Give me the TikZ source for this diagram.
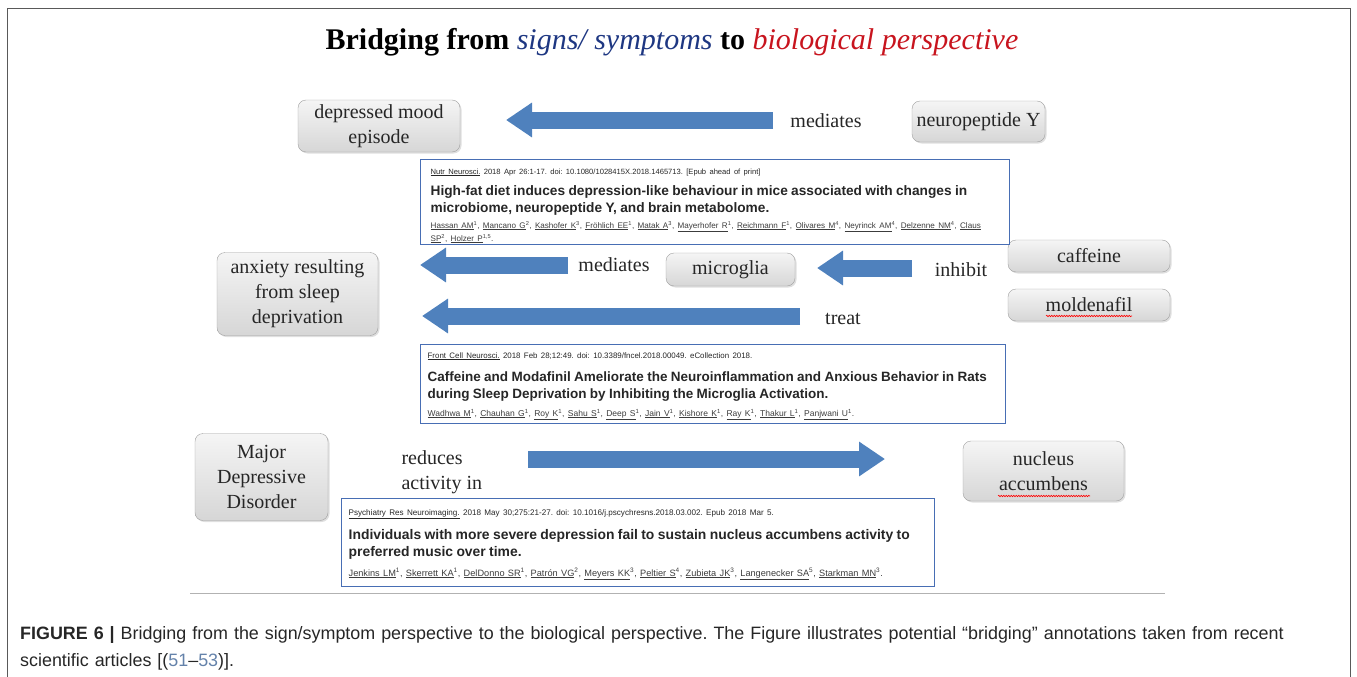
\documentclass[tikz,border=0pt]{standalone}
\usepackage{fontspec}
\setmainfont{Liberation Serif}
\setsansfont{Liberation Sans}
\usetikzlibrary{arrows.meta,shadows,decorations.pathmorphing}
\frenchspacing

\definecolor{arrowblue}{RGB}{79,129,189}
\definecolor{boxblue}{RGB}{72,110,180}
\definecolor{titleblue}{RGB}{30,55,130}
\definecolor{titlered}{RGB}{200,20,30}
\definecolor{citeblue}{RGB}{100,130,170}
\definecolor{authgray}{RGB}{60,60,60}

\newcommand{\aname}[2]{\underline{#1}\textsuperscript{#2}}

\tikzset{
  concept/.style={draw=gray!75, rounded corners=8pt, top color=gray!8, bottom color=gray!32,
    drop shadow={opacity=0.25,shadow xshift=1.5pt,shadow yshift=-1.5pt},
    align=center, text=black!85, font=\fontsize{20}{25}\selectfont, inner sep=2pt},
  verb/.style={text=black!85, font=\fontsize{20}{25}\selectfont},
  bigarrow/.style={draw=arrowblue, line width=17pt, -{Triangle[width=33pt,length=26pt]}},
  article/.style={draw=boxblue, line width=1.3pt, anchor=north west, align=left,
    inner xsep=10pt, font=\sffamily, text=black!85},
  squiggle/.style={red, line width=0.6pt, decorate,
    decoration={snake,amplitude=0.7pt,segment length=2.5pt}}
}

\begin{document}
\begin{tikzpicture}[x=1pt,y=-1pt]
  \useasboundingbox (0,0) rectangle (1357,677);
  \draw[gray!70!black, line width=1.5pt] (7.5,677) -- (7.5,8.5) -- (1350.5,8.5) -- (1350.5,677);

  \node[font=\fontsize{30}{36}\selectfont] (title) at (672,42)
    {\textbf{Bridging from} \textit{\color{titleblue}signs/ symptoms} \textbf{to} \textit{\color{titlered}biological perspective}};

  % signs / symptoms and biology
  \node[concept, minimum width=162pt, minimum height=52pt] (depmood) at (379,126) {depressed mood\\episode};
  \node[concept, minimum width=133pt, minimum height=41pt] (npy) at (978.5,121.5) {neuropeptide Y};
  \node[concept, minimum width=161pt, minimum height=83pt] (anxiety) at (297.5,294) {anxiety resulting\\from sleep\\deprivation};
  \node[concept, minimum width=129pt, minimum height=33pt] (microglia) at (730.5,269.5) {microglia};
  \node[concept, minimum width=162pt, minimum height=32pt] (caffeine) at (1089,256) {caffeine};
  \node[concept, minimum width=162pt, minimum height=32pt] (moldenafil) at (1089,305) {moldenafil};
  \node[concept, minimum width=133pt, minimum height=87pt] (mdd) at (261.5,477) {Major\\Depressive\\Disorder};
  \node[concept, minimum width=161pt, minimum height=60pt] (nacc) at (1043.5,471) {nucleus\\accumbens};

  \draw[squiggle] (1046,316) -- (1132,316);
  \draw[squiggle] (998,496) -- (1090,496);

  % verbs
  \node[verb] (med1) at (826,121) {mediates};
  \node[verb] (med2) at (614,265) {mediates};
  \node[verb] (inh) at (961,270) {inhibit};
  \node[verb] (trt) at (843,319) {treat};
  \node[verb, align=left, anchor=west] (reduce) at (398,472) {reduces\\activity in};

  % block arrows
  \coordinate (a1s) at (773,120);  \coordinate (a1e) at (506,120);
  \coordinate (a2s) at (568,265);  \coordinate (a2e) at (420,265);
  \coordinate (a3s) at (912,268);  \coordinate (a3e) at (817,268);
  \coordinate (a4s) at (800,316);  \coordinate (a4e) at (422,316);
  \coordinate (a5s) at (528,459);  \coordinate (a5e) at (885,459);
  \draw[bigarrow] (a1s) -- (a1e);
  \draw[bigarrow] (a2s) -- (a2e);
  \draw[bigarrow] (a3s) -- (a3e);
  \draw[bigarrow] (a4s) -- (a4e);
  \draw[bigarrow] (a5s) -- (a5e);

  % articles
  \node[article, minimum width=589pt, minimum height=84pt, text width=569pt, inner ysep=1pt] (art1) at (420,159) {%
    {\fontsize{7.6}{9}\selectfont\rule{0pt}{13.5pt}\underline{Nutr Neurosci.} 2018 Apr 26:1-17. doi: 10.1080/1028415X.2018.1465713. [Epub ahead of print]\par}
    \vspace{5pt}
    {\fontsize{13.7}{16.5}\selectfont\bfseries High-fat diet induces depression-like behaviour in mice associated with changes in\\microbiome, neuropeptide Y, and brain metabolome.\par}
    \vspace{3pt}
    {\fontsize{8.1}{13}\selectfont\color{authgray}\aname{Hassan AM}{1}, \aname{Mancano G}{2}, \aname{Kashofer K}{3}, \aname{Fröhlich EE}{1}, \aname{Matak A}{3}, \aname{Mayerhofer R}{1}, \aname{Reichmann F}{1}, \aname{Olivares M}{4}, \aname{Neyrinck AM}{4}, \aname{Delzenne NM}{4}, \underline{Claus}\\\aname{SP}{2}, \aname{Holzer P}{1,5}.\par}};

  \node[article, minimum width=585pt, minimum height=79pt, text width=571pt, inner xsep=7pt] (art2) at (420,344) {%
    {\fontsize{7.9}{9}\selectfont\rule{0pt}{9.7pt}\underline{Front Cell Neurosci.} 2018 Feb 28;12:49. doi: 10.3389/fncel.2018.00049. eCollection 2018.\par}
    \vspace{6pt}
    {\fontsize{13.5}{17}\selectfont\bfseries Caffeine and Modafinil Ameliorate the Neuroinflammation and Anxious Behavior in Rats\\during Sleep Deprivation by Inhibiting the Microglia Activation.\par}
    \vspace{5pt}
    {\fontsize{8.5}{13}\selectfont\color{authgray}\aname{Wadhwa M}{1}, \aname{Chauhan G}{1}, \aname{Roy K}{1}, \aname{Sahu S}{1}, \aname{Deep S}{1}, \aname{Jain V}{1}, \aname{Kishore K}{1}, \aname{Ray K}{1}, \aname{Thakur L}{1}, \aname{Panjwani U}{1}.\par}};

  \node[article, minimum width=593pt, minimum height=88pt, text width=579pt, inner xsep=7pt] (art3) at (341,498) {%
    {\fontsize{8.1}{9}\selectfont\rule{0pt}{9.8pt}\underline{Psychiatry Res Neuroimaging.} 2018 May 30;275:21-27. doi: 10.1016/j.pscychresns.2018.03.002. Epub 2018 Mar 5.\par}
    \vspace{7pt}
    {\fontsize{13.9}{17}\selectfont\bfseries Individuals with more severe depression fail to sustain nucleus accumbens activity to\\preferred music over time.\par}
    \vspace{7pt}
    {\fontsize{9.2}{13}\selectfont\color{authgray}\aname{Jenkins LM}{1}, \aname{Skerrett KA}{1}, \aname{DelDonno SR}{1}, \aname{Patrón VG}{2}, \aname{Meyers KK}{3}, \aname{Peltier S}{4}, \aname{Zubieta JK}{3}, \aname{Langenecker SA}{5}, \aname{Starkman MN}{3}.\par}};

  \draw[gray!60, line width=1pt] (190,593.5) -- (1165,593.5);

  \node[anchor=north west, text width=1330pt, align=left, inner sep=0pt,
    font=\sffamily\fontsize{17.9}{27}\selectfont, text=black!85] (caption) at (20,626)
    {\textbf{FIGURE 6 |} Bridging from the sign/symptom perspective to the biological perspective. The Figure illustrates potential “bridging” annotations taken from recent\\scientific articles [({\color{citeblue}51}–{\color{citeblue}53})].};
\end{tikzpicture}
\end{document}
